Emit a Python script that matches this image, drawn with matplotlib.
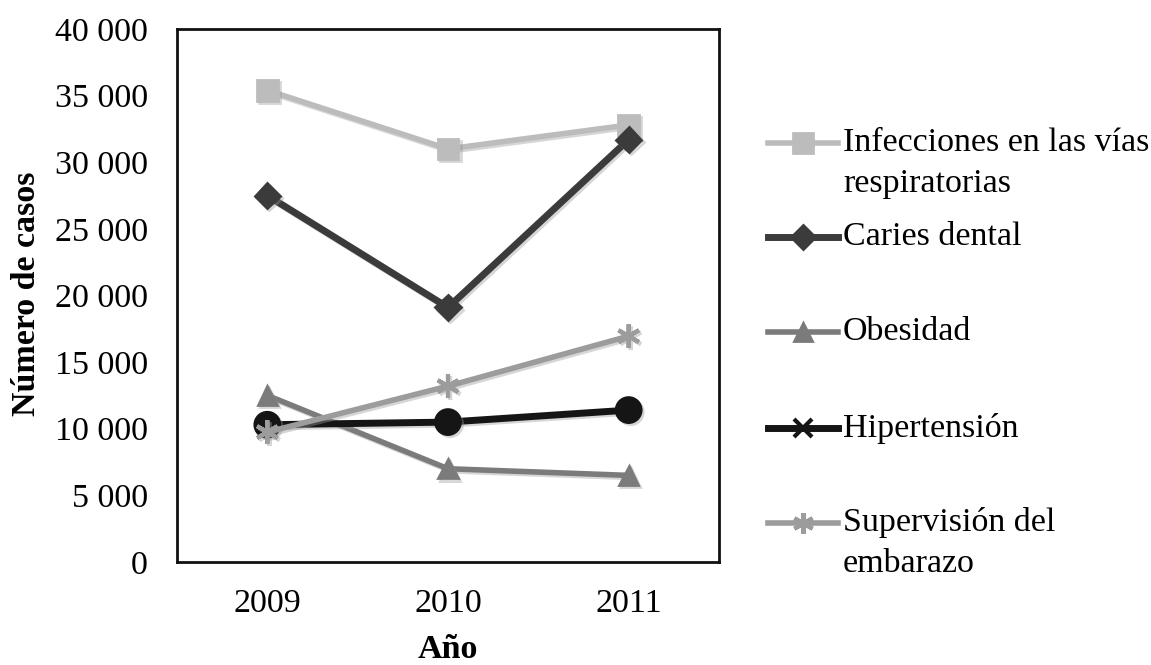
import matplotlib
matplotlib.use("Agg")
import matplotlib.pyplot as plt
from matplotlib.lines import Line2D
import matplotlib.patheffects as pe

plt.rcParams['font.family'] = ['Liberation Serif', 'DejaVu Serif']

years = ["2009", "2010", "2011"]
infecciones = [35400, 31000, 32800]
caries = [27500, 19100, 31700]
obesidad = [12500, 7000, 6500]
hipertension = [10300, 10500, 11400]
supervision = [9750, 13200, 16950]

labels = [["Infecciones en las vías", "respiratorias"], ["Caries dental"], ["Obesidad"],
          ["Hipertensión"], ["Supervisión del", "embarazo"]]
yticks = [0, 5000, 10000, 15000, 20000, 25000, 30000, 35000, 40000]
ytick_labels = ["0", "5 000", "10 000", "15 000", "20 000", "25 000", "30 000", "35 000", "40 000"]

W, H = 1151, 665
FS = 24.5
fig = plt.figure(figsize=(W / 100, H / 100), dpi=100)
ax = fig.add_axes([177 / W, 1 - 562 / H, 542 / W, 533 / H])

x = list(range(len(years)))
shadow = [pe.SimpleLineShadow(offset=(1.5, -1.5), shadow_color='0.6', alpha=0.4), pe.Normal()]

# values, colour, marker, line width, marker size, marker edge width, legend marker, legend size
series = [
    (infecciones, '#bcbcbc', 's', 4, 15, 2, 's', 15),
    (caries, '#3b3b3b', 'D', 5, 13, 2, 'D', 12),
    (obesidad, '#7b7b7b', '^', 4, 14, 2, '^', 13),
    (hipertension, '#151515', 'o', 5, 18, 2, 'x', 13),
    (supervision, '#9c9c9c', (6, 2, 0), 4, 17, 3, (6, 2, 0), 15),
]
for vals, col, mk, lw, ms, mew, lmk, lms in series:
    ax.plot(x, vals, color=col, lw=lw, marker=mk, ms=ms, mfc=col, mec=col,
            mew=mew, path_effects=shadow, zorder=3)

ax.set_xlim(-0.5, 2.5)
ax.set_ylim(0, 40000)
ax.set_xticks(x)
ax.set_xticklabels(years)
ax.set_yticks(yticks)
ax.set_yticklabels(ytick_labels)
ax.tick_params(axis='both', length=0, labelsize=FS)
ax.tick_params(axis='y', pad=21)
ax.tick_params(axis='x', pad=19)
for s in ax.spines.values():
    s.set_linewidth(2)
    s.set_color('#111111')

fig.text(27 / W, 1 - 294 / H, "Número de casos", fontsize=FS, fontweight='bold',
         rotation=90, ha='center', va='center')
fig.text(448 / W, 1 - 650 / H, "Año", fontsize=FS, fontweight='bold',
         ha='center', va='center')

# legend drawn manually to match the original spacing
handle_y = [143, 237, 332, 428, 523]
for (vals, col, mk, lw, ms, mew, lmk, lms), lab, hy in zip(series, labels, handle_y):
    yf = 1 - hy / H
    fig.add_artist(Line2D([768 / W, 838 / W], [yf, yf], color=col, lw=lw,
                          transform=fig.transFigure))
    fig.add_artist(Line2D([803 / W], [yf], color=col, lw=0, marker=lmk, ms=lms,
                          mfc=col, mec=col, mew=3 if lmk in ('x', (6, 2, 0)) else 2,
                          transform=fig.transFigure))
    for i, line in enumerate(lab):
        fig.text(843 / W, 1 - (hy + i * 41) / H, line, fontsize=FS,
                 ha='left', va='center')

fig.savefig("out.png", dpi=100)
